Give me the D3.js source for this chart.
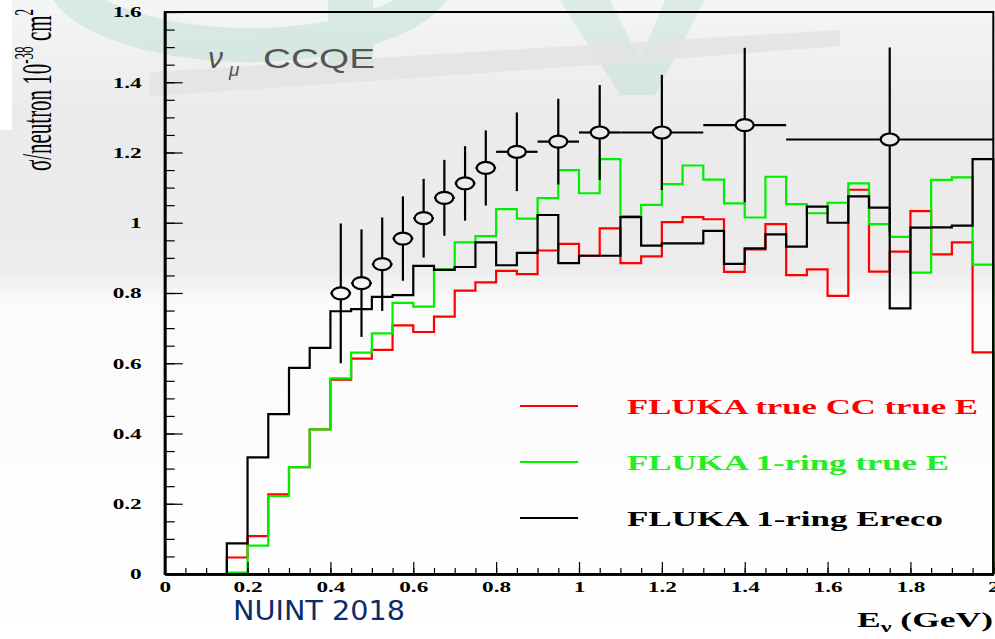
<!DOCTYPE html>
<html>
<head>
<meta charset="utf-8">
<script src="https://cdn.jsdelivr.net/npm/d3@7"></script>
<style>
  body { margin: 0; background: #fff; }
  svg { display: block; }
</style>
</head>
<body>
<svg id="chart"></svg>
<script>
// bin lower edges (GeV), 0.05 wide
var binLow = [0, 0.05, 0.1, 0.15, 0.2, 0.25, 0.3, 0.35, 0.4, 0.45,
              0.5, 0.55, 0.6, 0.65, 0.7, 0.75, 0.8, 0.85, 0.9, 0.95,
              1.0, 1.05, 1.1, 1.15, 1.2, 1.25, 1.3, 1.35, 1.4, 1.45,
              1.5, 1.55, 1.6, 1.65, 1.7, 1.75, 1.8, 1.85, 1.9, 1.95];

// FLUKA true CC true E (red)
var trueCC = [0, 0, 0, 0.047, 0.108, 0.227, 0.304, 0.412, 0.553, 0.613,
              0.638, 0.708, 0.689, 0.733, 0.807, 0.830, 0.863, 0.854, 0.921, 0.940,
              0.906, 0.984, 0.885, 0.904, 1.002, 1.016, 1.010, 0.860, 0.924, 0.996,
              0.851, 0.867, 0.792, 1.094, 0.861, 0.918, 1.033, 0.910, 0.944, 0.631];

// FLUKA 1-ring true E (green)
var ringTrue = [0, 0, 0, 0.004, 0.081, 0.222, 0.304, 0.412, 0.557, 0.630,
                0.685, 0.772, 0.761, 0.867, 0.944, 0.962, 1.039, 1.012, 1.070, 1.150,
                1.084, 1.181, 1.019, 1.051, 1.110, 1.163, 1.123, 1.055, 1.015, 1.131,
                1.053, 1.027, 1.057, 1.112, 0.996, 0.960, 0.858, 1.122, 1.129, 0.881];

// FLUKA 1-ring Ereco (black)
var ringReco = [0, 0, 0, 0.087, 0.332, 0.455, 0.587, 0.644, 0.748, 0.754,
                0.789, 0.794, 0.877, 0.866, 0.874, 0.944, 0.879, 0.914, 1.022, 0.885,
                0.906, 0.906, 1.016, 0.935, 0.941, 0.941, 0.977, 0.883, 0.927, 0.967,
                0.932, 1.046, 1.000, 1.075, 1.043, 0.756, 0.986, 0.987, 0.992, 1.181];

// measured points
var dataE     = [0.425, 0.475, 0.525, 0.575, 0.625, 0.675, 0.725, 0.775, 0.85, 0.95, 1.05, 1.2, 1.4, 1.75];
var dataXErr  = [0.025, 0.025, 0.025, 0.025, 0.025, 0.025, 0.025, 0.025, 0.05, 0.05, 0.05, 0.1, 0.1, 0.25];
var dataSigma = [0.799, 0.828, 0.882, 0.955, 1.013, 1.071, 1.112, 1.156, 1.202, 1.231, 1.257, 1.257, 1.278, 1.237];
var dataErr   = [0.199, 0.153, 0.133, 0.120, 0.112, 0.108, 0.106, 0.107, 0.112, 0.122, 0.135, 0.164, 0.220, 0.262];

var xTicks = [0, 0.2, 0.4, 0.6, 0.8, 1, 1.2, 1.4, 1.6, 1.8, 2];
var yTicks = [0, 0.2, 0.4, 0.6, 0.8, 1, 1.2, 1.4, 1.6];

var seriesNames = ["FLUKA true CC true E", "FLUKA 1-ring true E", "FLUKA 1-ring Ereco"];
var seriesColors = ["#ff0000", "#00ee00", "#000000"];

var width = 995, height = 639;
var svg = d3.select("#chart").attr("width", width).attr("height", height);

var x = d3.scaleLinear().domain([0, 2]).range([164.7, 993.3]);
var y = d3.scaleLinear().domain([0, 1.6]).range([574, 12]);

// slide background
var defs = svg.append("defs");
var grad = defs.append("linearGradient").attr("id", "bg")
    .attr("x1", 0).attr("y1", 0).attr("x2", 0).attr("y2", 1);
grad.append("stop").attr("offset", "0").attr("stop-color", "#f4f6f5");
grad.append("stop").attr("offset", "0.17").attr("stop-color", "#ebebeb");
grad.append("stop").attr("offset", "0.42").attr("stop-color", "#ececec");
grad.append("stop").attr("offset", "0.47").attr("stop-color", "#fafafa");
grad.append("stop").attr("offset", "1").attr("stop-color", "#ffffff");

svg.append("rect").attr("width", width).attr("height", height).attr("fill", "url(#bg)");

// faint logo watermark
var wm = svg.append("g").attr("opacity", 0.35);
wm.append("ellipse").attr("cx", 250).attr("cy", -30).attr("rx", 190).attr("ry", 75)
    .attr("fill", "none").attr("stroke", "#a9d6cb").attr("stroke-width", 34);
wm.append("rect").attr("x", 328).attr("y", 0).attr("width", 45).attr("height", 66).attr("fill", "#a9d6cb");
wm.append("path").attr("d", "M560,0 L610,0 L640,60 L665,0 L705,0 L655,95 L620,95 Z").attr("fill", "#b3dbd1");
svg.append("path").attr("d", "M150,72 Q420,55 840,30 L840,46 Q430,78 150,96 Z")
    .attr("fill", "#e2e2e2").attr("opacity", 0.8);
svg.append("rect").attr("x", 0).attr("y", 0).attr("width", 12).attr("height", 130).attr("fill", "#ffffff");

// histograms
function stepPoints(vals) {
  var pts = vals.map(function (v, i) { return [binLow[i], v]; });
  pts.push([2, vals[vals.length - 1]]);
  pts.push([2, 0]);
  return pts;
}
var line = d3.line()
    .x(function (d) { return x(d[0]); })
    .y(function (d) { return y(d[1]); })
    .curve(d3.curveStepAfter);

[trueCC, ringTrue, ringReco].forEach(function (vals, i) {
  svg.append("path")
      .attr("d", line(stepPoints(vals)))
      .attr("fill", "none")
      .attr("stroke", seriesColors[i])
      .attr("stroke-width", 2.2);
});

// data points with error bars
var rx = 9, ry = 6;
var pts = svg.append("g").attr("stroke", "#000").attr("stroke-width", 2.2);
dataE.forEach(function (e, i) {
  var cx = x(e), cy = y(dataSigma[i]);
  var top = y(dataSigma[i] + dataErr[i]), bot = y(dataSigma[i] - dataErr[i]);
  var left = x(e - dataXErr[i]), right = x(e + dataXErr[i]);
  pts.append("line").attr("x1", cx).attr("x2", cx).attr("y1", top).attr("y2", cy - ry);
  pts.append("line").attr("x1", cx).attr("x2", cx).attr("y1", cy + ry).attr("y2", bot);
  if (cx - left > rx) {
    pts.append("line").attr("x1", left).attr("x2", cx - rx).attr("y1", cy).attr("y2", cy);
    pts.append("line").attr("x1", cx + rx).attr("x2", right).attr("y1", cy).attr("y2", cy);
  }
  pts.append("ellipse").attr("cx", cx).attr("cy", cy).attr("rx", rx).attr("ry", ry)
      .attr("fill", "none");
});

// frame
svg.append("rect")
    .attr("x", x(0)).attr("y", y(1.6))
    .attr("width", x(2) - x(0)).attr("height", y(0) - y(1.6))
    .attr("fill", "none").attr("stroke", "#000").attr("stroke-width", 2);

function fmt(d) { return String(+d.toFixed(1)); }
function stretch(sel, k) {
  sel.each(function () {
    var w = this.getComputedTextLength();
    d3.select(this).attr("textLength", w * k).attr("lengthAdjust", "spacingAndGlyphs");
  });
}

// y axis, ticks pointing inward
var yMinor = svg.append("g").attr("transform", "translate(" + x(0) + ",0)")
    .call(d3.axisLeft(y).tickValues(d3.range(0, 1.61, 0.05)).tickSizeInner(-10).tickSizeOuter(0).tickFormat(""));
var yAxis = svg.append("g").attr("transform", "translate(" + x(0) + ",0)")
    .call(d3.axisLeft(y).tickValues(yTicks).tickSizeInner(-18).tickSizeOuter(0).tickPadding(23).tickFormat(fmt));

// x axis, ticks pointing inward
var xMinor = svg.append("g").attr("transform", "translate(0," + y(0) + ")")
    .call(d3.axisBottom(x).tickValues(d3.range(0, 2.01, 0.05)).tickSizeInner(-6).tickSizeOuter(0).tickFormat(""));
var xAxis = svg.append("g").attr("transform", "translate(0," + y(0) + ")")
    .call(d3.axisBottom(x).tickValues(xTicks).tickSizeInner(-12).tickSizeOuter(0).tickPadding(7).tickFormat(fmt));

[yMinor, yAxis, xMinor, xAxis].forEach(function (g) {
  g.select(".domain").attr("stroke", "#000").attr("stroke-width", 2.5);
  g.selectAll(".tick line").attr("stroke", "#000").attr("stroke-width", 1.2);
});
[yAxis, xAxis].forEach(function (g) {
  g.selectAll("text")
      .attr("fill", "#000")
      .style("font-family", "'Liberation Serif', serif")
      .style("font-weight", "bold")
      .style("font-size", "15px");
  stretch(g.selectAll("text"), 1.55);
});

// y axis title (rotated, stretched across like the slide)
var yTitle = svg.append("text")
    .attr("transform", "translate(51,171) scale(1.8,1) rotate(-90)")
    .style("font-family", "'Liberation Serif', serif")
    .style("font-size", "24px")
    .attr("fill", "#000")
    .attr("textLength", 162).attr("lengthAdjust", "spacingAndGlyphs");
yTitle.append("tspan").text("σ/neutron 10");
yTitle.append("tspan").attr("dy", -10).style("font-size", "15px").text("-38");
yTitle.append("tspan").attr("dy", 10).text(" cm");
yTitle.append("tspan").attr("dy", -10).style("font-size", "15px").text("2");

// x axis title
var xTitle = svg.append("text")
    .attr("x", 857).attr("y", 627)
    .style("font-family", "'Liberation Serif', serif")
    .style("font-weight", "bold")
    .style("font-size", "22px")
    .attr("fill", "#000")
    .attr("textLength", 136).attr("lengthAdjust", "spacingAndGlyphs");
xTitle.append("tspan").text("E");
xTitle.append("tspan").attr("dy", 5).style("font-size", "15px").text("ν");
xTitle.append("tspan").attr("dy", -5).text(" (GeV)");

// nu_mu CCQE label
var lab = svg.append("g").attr("fill", "#555")
    .style("font-family", "'Liberation Sans', sans-serif");
lab.append("text").attr("x", 208).attr("y", 68).style("font-size", "30px")
    .style("font-style", "italic").text("ν");
lab.append("text").attr("x", 229).attr("y", 76).style("font-size", "19px")
    .style("font-style", "italic").text("μ");
lab.append("text").attr("x", 263).attr("y", 68).style("font-size", "28px")
    .attr("textLength", 112).attr("lengthAdjust", "spacingAndGlyphs").text("CCQE");

// legend
var legendY = [406, 462, 518];
var legendLen = [351, 322, 316];
var leg = svg.append("g");
seriesNames.forEach(function (name, i) {
  leg.append("line").attr("x1", 520).attr("x2", 578)
      .attr("y1", legendY[i]).attr("y2", legendY[i])
      .attr("stroke", seriesColors[i]).attr("stroke-width", 2);
  leg.append("text").attr("x", 627).attr("y", legendY[i] + 8)
      .attr("fill", i === 1 ? "#22ee22" : seriesColors[i])
      .style("font-family", "'Liberation Serif', serif")
      .style("font-weight", "bold")
      .style("font-size", "22px")
      .attr("textLength", legendLen[i]).attr("lengthAdjust", "spacingAndGlyphs")
      .text(name);
});

// conference tag
svg.append("text").attr("x", 233).attr("y", 620)
    .attr("fill", "#0b2d6b")
    .style("font-family", "'DejaVu Sans', sans-serif")
    .style("font-size", "27px")
    .attr("textLength", 172).attr("lengthAdjust", "spacingAndGlyphs")
    .text("NUINT 2018");
</script>
</body>
</html>
